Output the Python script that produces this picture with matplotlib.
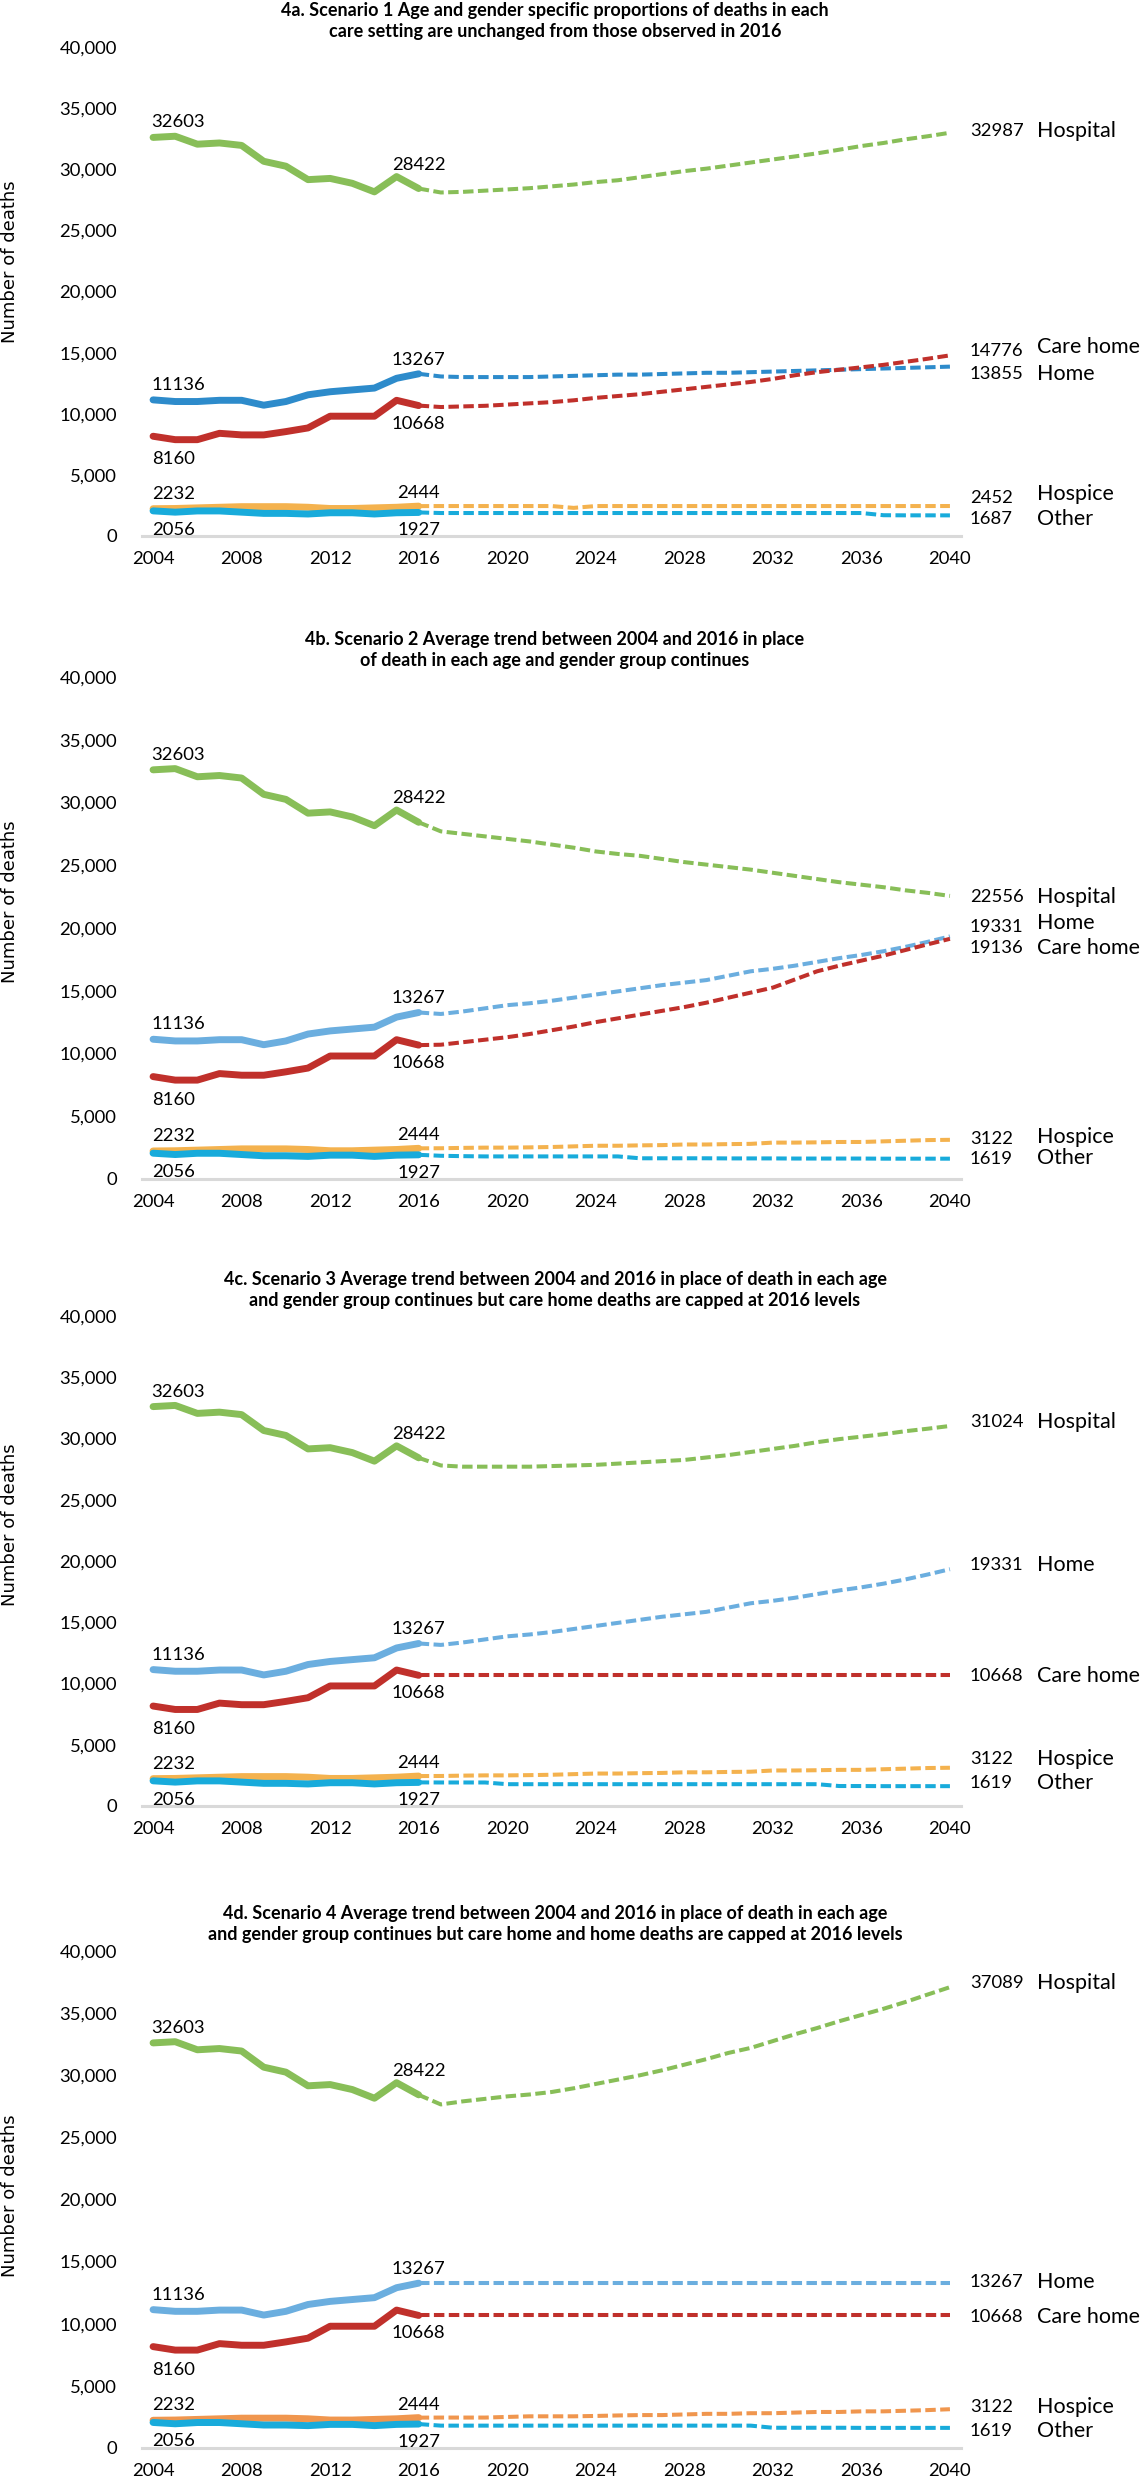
import matplotlib.pyplot as plt
from matplotlib.ticker import FuncFormatter

plt.rcParams['font.family'] = ['Lato', 'DejaVu Sans']

years_hist = list(range(2004, 2017))
years_proj = list(range(2016, 2041))
tick_years = list(range(2004, 2041, 4))
settings = ['Hospital', 'Home', 'Care home', 'Hospice', 'Other']

# observed deaths 2004-2016 (same in every panel)
hospital_hist = [32603, 32700, 32050, 32150, 31950, 30650, 30250, 29150, 29250, 28850, 28150, 29400, 28422]
home_hist = [11136, 11000, 11000, 11100, 11100, 10700, 11000, 11550, 11800, 11950, 12100, 12900, 13267]
carehome_hist = [8160, 7880, 7880, 8400, 8270, 8270, 8540, 8840, 9800, 9800, 9800, 11100, 10668]
hospice_hist = [2232, 2250, 2300, 2350, 2400, 2400, 2400, 2350, 2250, 2250, 2300, 2350, 2444]
other_hist = [2056, 1950, 2050, 2050, 1950, 1850, 1850, 1800, 1900, 1900, 1800, 1900, 1927]

# projections 2016-2040
s1_hospital = [28422, 28100, 28150, 28250, 28350, 28450, 28600, 28750, 28950, 29100, 29350, 29600, 29850,
               30050, 30300, 30550, 30800, 31050, 31300, 31600, 31900, 32150, 32450, 32700, 32987]
s1_home = [13267, 13050, 13000, 13000, 13000, 13000, 13050, 13100, 13150, 13200, 13200, 13250, 13300,
           13350, 13350, 13400, 13450, 13500, 13550, 13600, 13650, 13700, 13750, 13800, 13855]
s1_carehome = [10668, 10550, 10600, 10650, 10750, 10850, 10950, 11100, 11300, 11450, 11600, 11800, 12000,
               12200, 12400, 12600, 12850, 13150, 13400, 13600, 13800, 14000, 14250, 14500, 14776]
s1_hospice = [2444, 2450, 2450, 2450, 2450, 2450, 2450, 2300, 2450, 2450, 2450, 2450, 2450,
              2450, 2450, 2450, 2450, 2450, 2450, 2450, 2450, 2450, 2450, 2450, 2452]
s1_other = [1927, 1880, 1880, 1880, 1880, 1880, 1880, 1880, 1880, 1880, 1880, 1880, 1880,
            1880, 1880, 1880, 1880, 1880, 1880, 1880, 1880, 1700, 1690, 1690, 1687]

s2_hospital = [28422, 27700, 27500, 27300, 27100, 26900, 26650, 26400, 26100, 25900, 25750, 25500, 25250,
               25050, 24850, 24650, 24400, 24150, 23900, 23650, 23450, 23250, 23000, 22800, 22556]
s2_home = [13267, 13150, 13350, 13600, 13850, 14000, 14200, 14450, 14700, 14950, 15200, 15450, 15650,
           15850, 16200, 16550, 16750, 17000, 17300, 17600, 17850, 18150, 18500, 18900, 19331]
s2_carehome = [10668, 10700, 10900, 11100, 11300, 11550, 11850, 12150, 12500, 12800, 13100, 13400, 13700,
               14050, 14450, 14850, 15250, 15900, 16550, 17000, 17400, 17800, 18250, 18700, 19136]
s2_hospice = [2444, 2450, 2480, 2500, 2500, 2520, 2550, 2600, 2650, 2650, 2680, 2700, 2750,
              2750, 2780, 2800, 2900, 2900, 2920, 2950, 2950, 3000, 3050, 3100, 3122]
s2_other = [1927, 1850, 1820, 1800, 1800, 1800, 1800, 1800, 1800, 1800, 1650, 1650, 1650,
            1650, 1640, 1640, 1640, 1630, 1630, 1630, 1630, 1620, 1620, 1620, 1619]

s3_hospital = [28422, 27800, 27700, 27700, 27700, 27700, 27750, 27800, 27850, 27950, 28050, 28150, 28250,
               28450, 28650, 28900, 29150, 29400, 29700, 29950, 30150, 30350, 30600, 30800, 31024]
s3_home = [13267, 13150, 13350, 13600, 13850, 14000, 14200, 14450, 14700, 14950, 15200, 15450, 15650,
           15850, 16200, 16550, 16750, 17000, 17300, 17600, 17850, 18150, 18500, 18900, 19331]
s3_carehome = [10668, 10668, 10668, 10668, 10668, 10668, 10668, 10668, 10668, 10668, 10668, 10668, 10668,
               10668, 10668, 10668, 10668, 10668, 10668, 10668, 10668, 10668, 10668, 10668, 10668]
s3_hospice = [2444, 2450, 2480, 2500, 2500, 2520, 2550, 2600, 2650, 2650, 2680, 2700, 2750,
              2750, 2780, 2800, 2900, 2900, 2920, 2950, 2950, 3000, 3050, 3100, 3122]
s3_other = [1927, 1920, 1920, 1920, 1780, 1780, 1780, 1780, 1780, 1780, 1780, 1780, 1780,
            1780, 1780, 1780, 1780, 1780, 1780, 1630, 1630, 1620, 1620, 1620, 1619]

s4_hospital = [28422, 27650, 27900, 28100, 28300, 28450, 28650, 28950, 29300, 29650, 30000, 30400, 30850,
               31300, 31800, 32200, 32750, 33300, 33800, 34350, 34850, 35350, 35900, 36500, 37089]
s4_home = [13267, 13267, 13267, 13267, 13267, 13267, 13267, 13267, 13267, 13267, 13267, 13267, 13267,
           13267, 13267, 13267, 13267, 13267, 13267, 13267, 13267, 13267, 13267, 13267, 13267]
s4_carehome = [10668, 10668, 10668, 10668, 10668, 10668, 10668, 10668, 10668, 10668, 10668, 10668, 10668,
               10668, 10668, 10668, 10668, 10668, 10668, 10668, 10668, 10668, 10668, 10668, 10668]
s4_hospice = [2444, 2450, 2450, 2450, 2500, 2550, 2550, 2550, 2580, 2620, 2650, 2650, 2700,
              2750, 2750, 2800, 2800, 2850, 2900, 2900, 2950, 2950, 3000, 3050, 3122]
s4_other = [1927, 1800, 1800, 1800, 1800, 1800, 1800, 1800, 1800, 1800, 1800, 1800, 1800,
            1800, 1800, 1800, 1630, 1630, 1630, 1630, 1620, 1620, 1620, 1620, 1619]

titles = [
    '4a. Scenario 1 Age and gender specific proportions of deaths in each\ncare setting are unchanged from those observed in 2016',
    '4b. Scenario 2 Average trend between 2004 and 2016 in place\nof death in each age and gender group continues',
    '4c. Scenario 3 Average trend between 2004 and 2016 in place of death in each age\nand gender group continues but care home deaths are capped at 2016 levels',
    '4d. Scenario 4 Average trend between 2004 and 2016 in place of death in each age\nand gender group continues but care home and home deaths are capped at 2016 levels',
]

hist = {'Hospital': hospital_hist, 'Home': home_hist, 'Care home': carehome_hist,
        'Hospice': hospice_hist, 'Other': other_hist}
proj = [
    {'Hospital': s1_hospital, 'Home': s1_home, 'Care home': s1_carehome, 'Hospice': s1_hospice, 'Other': s1_other},
    {'Hospital': s2_hospital, 'Home': s2_home, 'Care home': s2_carehome, 'Hospice': s2_hospice, 'Other': s2_other},
    {'Hospital': s3_hospital, 'Home': s3_home, 'Care home': s3_carehome, 'Hospice': s3_hospice, 'Other': s3_other},
    {'Hospital': s4_hospital, 'Home': s4_home, 'Care home': s4_carehome, 'Hospice': s4_hospice, 'Other': s4_other},
]

GREEN, RED, CYAN = '#88BE58', '#C0302B', '#18ABDB'
colors = [
    {'Hospital': GREEN, 'Home': '#2D8BCB', 'Care home': RED, 'Hospice': '#F4B24E', 'Other': CYAN},
    {'Hospital': GREEN, 'Home': '#6BAEDF', 'Care home': RED, 'Hospice': '#F4B24E', 'Other': CYAN},
    {'Hospital': GREEN, 'Home': '#6BAEDF', 'Care home': RED, 'Hospice': '#F4B24E', 'Other': CYAN},
    {'Hospital': GREEN, 'Home': '#6BAEDF', 'Care home': RED, 'Hospice': '#F0964E', 'Other': CYAN},
]

# layout in pixels of the 1146x2481 figure
W, H = 1146, 2481
ax_tops = [47, 677, 1316, 1951]
ax_bots = [536, 1179, 1806, 2448]
title_y = [21, 650, 1290, 1924]
ylab_y = [262, 902, 1525, 2196]

# right hand label offsets (px, up positive): (number, name)
right_off = [
    {'Hospital': (2, 2), 'Home': (-7, -7), 'Care home': (4, 8), 'Hospice': (8, 12), 'Other': (-4, -4)},
    {'Hospital': (-1, -1), 'Home': (9, 13), 'Care home': (-9, -9), 'Hospice': (1, 3), 'Other': (0, 1)},
    {'Hospital': (4, 4), 'Home': (4, 4), 'Care home': (-1, -1), 'Hospice': (9, 9), 'Other': (3, 3)},
    {'Hospital': (4, 4), 'Home': (1, 1), 'Care home': (-2, -2), 'Hospice': (2, 2), 'Other': (-3, -3)},
]
# left labels offsets (px) for first / last observed point
start_off = {'Hospital': 15, 'Home': 15, 'Care home': -23, 'Hospice': 15, 'Other': -19}
end_off = {'Hospital': 24, 'Home': 14, 'Care home': -18, 'Hospice': 13, 'Other': -18}

PX = 0.72  # points per pixel at dpi 100
FS = 13.3

fig = plt.figure(figsize=(W / 100, H / 100), dpi=100)
x0, x1 = 142, 961
yr_w = (x1 - x0) / 37.0

for i in range(4):
    ax = fig.add_axes([x0 / W, 1 - ax_bots[i] / H, (x1 - x0) / W, (ax_bots[i] - ax_tops[i]) / H])
    for s in settings:
        c = colors[i][s]
        ax.plot(years_hist, hist[s], color=c, lw=5.0, solid_capstyle='round', solid_joinstyle='round', zorder=3)
        ax.plot(years_proj, proj[i][s], color=c, lw=2.9, linestyle=(0, (2.6, 1.1)),
                dash_capstyle='butt', zorder=2)

        # data labels on the observed series
        ax.annotate(str(hist[s][0]), xy=(2004, hist[s][0]), xytext=(-1, start_off[s] * PX),
                    textcoords='offset points', ha='left', va='center', fontsize=FS)
        ax.annotate(str(hist[s][-1]), xy=(2016, hist[s][-1]), xytext=(0, end_off[s] * PX),
                    textcoords='offset points', ha='center', va='center', fontsize=FS)

        # right hand labels
        v = proj[i][s][-1]
        xn = 2003.5 + (970 - x0) / yr_w
        xl = 2003.5 + (1037 - x0) / yr_w
        on, ol = right_off[i][s]
        ax.annotate(str(v), xy=(xn, v), xytext=(0, on * PX), textcoords='offset points',
                    ha='left', va='center', fontsize=FS, annotation_clip=False)
        ax.annotate(s, xy=(xl, v), xytext=(0, ol * PX), textcoords='offset points',
                    ha='left', va='center', fontsize=15.5, annotation_clip=False)

    ax.set_xlim(2003.5, 2040.5)
    ax.set_ylim(0, 40000)
    ax.set_xticks(tick_years)
    ax.set_yticks(range(0, 40001, 5000))
    ax.yaxis.set_major_formatter(FuncFormatter(lambda v, p: '{:,.0f}'.format(v)))
    ax.tick_params(axis='both', length=0, labelsize=FS)
    ax.tick_params(axis='y', pad=18)
    ax.tick_params(axis='x', pad=11)
    for sp in ['top', 'right', 'left']:
        ax.spines[sp].set_visible(False)
    ax.spines['bottom'].set_color('#D9D9D9')
    ax.spines['bottom'].set_linewidth(2.2)

    fig.text(555 / W, 1 - title_y[i] / H, titles[i], ha='center', va='center',
             fontsize=13, fontweight='bold', linespacing=1.35)
    fig.text(10 / W, 1 - ylab_y[i] / H, 'Number of deaths', rotation=90,
             ha='center', va='center', fontsize=13, family='DejaVu Sans')

fig.savefig('out.png', dpi=100)
